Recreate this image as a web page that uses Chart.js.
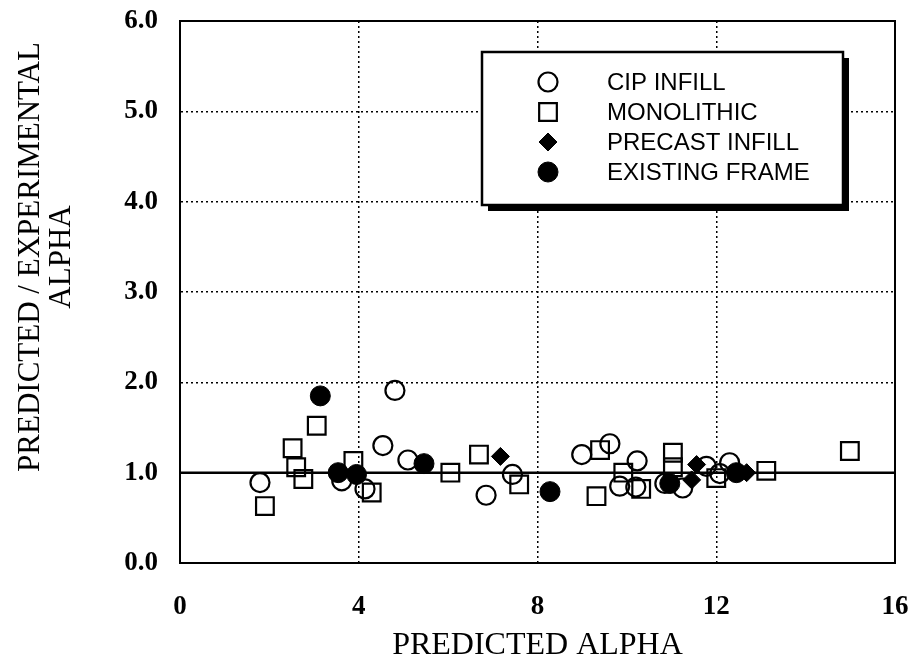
<!DOCTYPE html>
<html>
<head>
<meta charset="utf-8">
<script src="https://cdn.jsdelivr.net/npm/chart.js@4.4.0/dist/chart.umd.min.js"></script>
<style>
  html, body { margin: 0; padding: 0; background: #fff; }
  #wrap { width: 912px; height: 663px; position: relative; }
</style>
</head>
<body>
<div id="wrap"><canvas id="alphaChart"></canvas></div>
<script>
// Data
const cipX = [1.79, 3.62, 4.14, 4.54, 4.81, 5.10, 6.85, 7.44, 8.99, 9.62, 9.84, 10.20, 10.23, 10.85, 11.25, 11.78, 12.08, 12.30];
const cipY = [0.89, 0.91, 0.82, 1.30, 1.91, 1.14, 0.75, 0.98, 1.20, 1.32, 0.85, 0.84, 1.13, 0.88, 0.83, 1.07, 0.99, 1.11];

const monoX = [1.90, 2.52, 2.60, 2.76, 3.06, 3.88, 4.29, 6.05, 6.69, 7.59, 9.32, 9.40, 9.92, 10.32, 11.03, 11.03, 12.00, 13.12, 14.99];
const monoY = [0.63, 1.27, 1.06, 0.93, 1.52, 1.13, 0.78, 1.00, 1.20, 0.87, 0.74, 1.25, 1.00, 0.82, 1.22, 1.06, 0.94, 1.02, 1.24];

const precastX = [7.17, 11.56, 11.45, 12.68];
const precastY = [1.18, 1.09, 0.92, 1.00];

const existX = [3.14, 3.54, 3.95, 5.46, 8.28, 10.96, 12.45];
const existY = [1.85, 1.00, 0.98, 1.10, 0.79, 0.88, 1.00];

// reference line at ratio 1.0
const refX = [0, 16];
const refY = [1, 1];

const xTicks = [0, 4, 8, 12, 16];
const yTicks = [0, 1, 2, 3, 4, 5, 6];
const yTitle = ['PREDICTED / EXPERIMENTAL', 'ALPHA'];

function pts(xs, ys) {
    return xs.map(function(x, i) { return { x: x, y: ys[i] }; });
}

// frame around the plot area
const framePlugin = {
    id: 'frame',
    afterDraw: function(chart) {
        const a = chart.chartArea;
        const ctx = chart.ctx;
        ctx.save();
        ctx.strokeStyle = '#000';
        ctx.lineWidth = 2;
        ctx.strokeRect(a.left, a.top, a.right - a.left, a.bottom - a.top);
        ctx.restore();
    }
};

// y title sits a bit above the middle in the original, so place it by hand
const yTitlePlugin = {
    id: 'yTitle',
    afterDraw: function(chart) {
        const ctx = chart.ctx;
        ctx.save();
        ctx.fillStyle = '#000';
        ctx.font = '31px "Liberation Serif", "Times New Roman", serif';
        ctx.textAlign = 'center';
        ctx.textBaseline = 'middle';
        ctx.translate(0, 257);
        ctx.rotate(-Math.PI / 2);
        ctx.fillText(yTitle[0], 0, 31);
        ctx.fillText(yTitle[1], 0, 62);
        ctx.restore();
    }
};

// boxed legend with drop shadow, inside the plot
const boxLegend = {
    id: 'boxLegend',
    afterDraw: function(chart) {
        const ctx = chart.ctx;
        const bx = 482, by = 52, bw = 361, bh = 153;
        ctx.save();
        ctx.fillStyle = '#000';
        ctx.fillRect(bx + 6, by + 6, bw, bh);
        ctx.fillStyle = '#fff';
        ctx.fillRect(bx, by, bw, bh);
        ctx.strokeStyle = '#000';
        ctx.lineWidth = 2.5;
        ctx.strokeRect(bx, by, bw, bh);

        const rows = [82, 112, 142, 172];
        const items = chart.data.datasets.filter(function(d) { return d.showInLegend; });
        ctx.font = '24px "Liberation Sans", Arial, sans-serif';
        ctx.textBaseline = 'middle';
        ctx.textAlign = 'left';
        items.forEach(function(d, i) {
            ctx.fillStyle = d.backgroundColor;
            ctx.strokeStyle = d.borderColor;
            ctx.lineWidth = d.borderWidth;
            Chart.helpers.drawPoint(ctx, {
                pointStyle: d.pointStyle,
                radius: d.pointRadius,
                rotation: 0,
                borderWidth: d.borderWidth
            }, 548, rows[i]);
            ctx.fillStyle = '#000';
            ctx.fillText(d.label, 607, rows[i] + 1);
        });
        ctx.restore();
    }
};

document.addEventListener('DOMContentLoaded', function() {
    const ctx = document.getElementById('alphaChart');
    new Chart(ctx, {
        type: 'scatter',
        data: {
            datasets: [
                {
                    label: 'ref',
                    type: 'line',
                    data: pts(refX, refY),
                    borderColor: '#000',
                    borderWidth: 2.5,
                    pointRadius: 0,
                    order: 5
                },
                {
                    label: 'CIP INFILL',
                    showInLegend: true,
                    data: pts(cipX, cipY),
                    pointStyle: 'circle',
                    pointRadius: 9.5,
                    backgroundColor: 'rgba(255,255,255,0)',
                    borderColor: '#000',
                    borderWidth: 2.2
                },
                {
                    label: 'MONOLITHIC',
                    showInLegend: true,
                    data: pts(monoX, monoY),
                    pointStyle: 'rect',
                    pointRadius: 12.5,
                    backgroundColor: 'rgba(255,255,255,0)',
                    borderColor: '#000',
                    borderWidth: 2.2
                },
                {
                    label: 'PRECAST INFILL',
                    showInLegend: true,
                    data: pts(precastX, precastY),
                    pointStyle: 'rectRot',
                    pointRadius: 9,
                    backgroundColor: '#000',
                    borderColor: '#000',
                    borderWidth: 1
                },
                {
                    label: 'EXISTING FRAME',
                    showInLegend: true,
                    data: pts(existX, existY),
                    pointStyle: 'circle',
                    pointRadius: 10,
                    backgroundColor: '#000',
                    borderColor: '#000',
                    borderWidth: 1
                }
            ]
        },
        options: {
            responsive: true,
            maintainAspectRatio: false,
            animation: false,
            layout: {
                padding: { left: 0, top: 21, right: 17, bottom: 0 }
            },
            plugins: {
                legend: { display: false },
                tooltip: { enabled: false }
            },
            scales: {
                x: {
                    type: 'linear',
                    min: 0,
                    max: 16,
                    afterBuildTicks: function(scale) {
                        scale.ticks = xTicks.map(function(v) { return { value: v }; });
                    },
                    afterFit: function(scale) {
                        scale.height = 100;
                        scale.paddingLeft = 0;
                        scale.paddingRight = 0;
                    },
                    grid: {
                        color: '#000',
                        lineWidth: 1.5,
                        drawTicks: false
                    },
                    border: { display: true, color: '#000', width: 2, dash: [2, 3] },
                    ticks: {
                        padding: 28,
                        color: '#000',
                        font: { family: '"Liberation Serif", "Times New Roman", serif', size: 27, weight: 'bold' }
                    },
                    title: {
                        display: true,
                        text: 'PREDICTED ALPHA',
                        color: '#000',
                        padding: { top: 0, bottom: 1 },
                        font: { family: '"Liberation Serif", "Times New Roman", serif', size: 32, lineHeight: 1.0 }
                    }
                },
                y: {
                    min: 0,
                    max: 6,
                    afterBuildTicks: function(scale) {
                        scale.ticks = yTicks.map(function(v) { return { value: v }; });
                    },
                    afterFit: function(scale) {
                        scale.width = 180;
                        scale.paddingTop = 0;
                        scale.paddingBottom = 0;
                    },
                    grid: {
                        color: '#000',
                        lineWidth: 1.5,
                        drawTicks: false
                    },
                    border: { display: true, color: '#000', width: 2, dash: [2, 3] },
                    ticks: {
                        padding: 22,
                        color: '#000',
                        callback: function(v) { return v.toFixed(1); },
                        font: { family: '"Liberation Serif", "Times New Roman", serif', size: 27, weight: 'bold' }
                    },
                    title: { display: false }
                }
            }
        },
        plugins: [framePlugin, yTitlePlugin, boxLegend]
    });
});
</script>
</body>
</html>
